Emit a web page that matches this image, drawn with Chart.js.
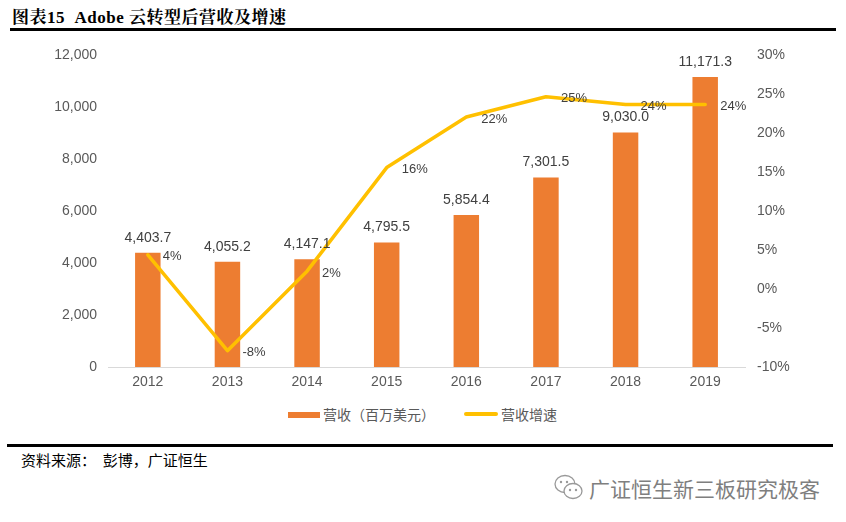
<!DOCTYPE html>
<html><head><meta charset="utf-8">
<script src="https://cdn.jsdelivr.net/npm/chart.js@4/dist/chart.umd.min.js"></script>
<style>
html,body{margin:0;padding:0;background:#fff;width:846px;height:522px;overflow:hidden;position:relative;font-family:"Liberation Sans","Noto Sans CJK SC",sans-serif;}
#title{position:absolute;left:12px;top:3px;font:bold 17px "Liberation Serif","Noto Serif CJK SC","Noto Sans CJK SC",serif;color:#000;white-space:nowrap;letter-spacing:0.5px;}
#rule1{position:absolute;left:10px;top:28px;width:826px;height:3px;background:#000;}
#chartbox{position:absolute;left:0;top:35px;width:846px;height:362px;}
.lg{position:absolute;}
.lgt{position:absolute;top:404px;font:14px "Noto Sans CJK SC",sans-serif;color:#595959;white-space:nowrap;line-height:20px;}
#rule2{position:absolute;left:7px;top:444px;width:826px;height:3px;background:#000;}
#source{position:absolute;left:21px;top:450px;font:15px "Noto Sans CJK SC",sans-serif;color:#000;white-space:nowrap;line-height:20px;}
#wm{position:absolute;left:589px;top:473px;font:21px "Noto Sans CJK SC",sans-serif;color:#7f7f7f;white-space:nowrap;}
#wmicon{position:absolute;left:553px;top:473px;}
</style></head>
<body>
<div id="title">图表15&nbsp; Adobe 云转型后营收及增速</div>
<div id="rule1"></div>
<div id="chartbox"><canvas id="c"></canvas></div>
<div class="lg" style="left:288px;top:412px;width:32px;height:6px;background:#ED7D31;"></div>
<div class="lgt" style="left:323px;">营收（百万美元）</div>
<div class="lg" style="left:464px;top:412px;width:34px;height:4px;background:#FFC000;border-radius:2px;"></div>
<div class="lgt" style="left:501px;">营收增速</div>
<div id="rule2"></div>
<div id="source">资料来源：&nbsp;&nbsp;彭博，广证恒生</div>
<svg id="wmicon" width="32" height="30" viewBox="0 0 32 30"><ellipse cx="12" cy="11" rx="10" ry="8.5" fill="none" stroke="#999" stroke-width="1.3"/><ellipse cx="20" cy="18" rx="9" ry="7.5" fill="#fff" stroke="#999" stroke-width="1.3"/><circle cx="17" cy="17" r="1.2" fill="#999"/><circle cx="23" cy="17" r="1.2" fill="#999"/><circle cx="8" cy="9" r="1.2" fill="#999"/><circle cx="14" cy="9" r="1.2" fill="#999"/></svg>
<div id="wm">广证恒生新三板研究极客</div>
<script>
const categories = ['2012','2013','2014','2015','2016','2017','2018','2019'];
const revenue = [4403.7, 4055.2, 4147.1, 4795.5, 5854.4, 7301.5, 9030.0, 11171.3];
const growth = [4.4, -7.9, 2.3, 15.6, 22.1, 24.7, 23.7, 23.7];
const revenueLabels = ['4,403.7','4,055.2','4,147.1','4,795.5','5,854.4','7,301.5','9,030.0','11,171.3'];
const growthLabels = ['4%','-8%','2%','16%','22%','25%','24%','24%'];
const leftTicks = [0,2000,4000,6000,8000,10000,12000];
const rightTicks = [-10,-5,0,5,10,15,20,25,30];

const labelPlugin = {
  id:'labels',
  afterDatasetsDraw(chart){
    const ctx = chart.ctx;
    ctx.save();
    ctx.font = '14px "Liberation Sans", sans-serif';
    ctx.fillStyle = '#404040';
    const bars = chart.getDatasetMeta(0).data;
    ctx.textAlign = 'center'; ctx.textBaseline = 'bottom';
    bars.forEach((b,i)=>{ ctx.fillText(revenueLabels[i], b.x, b.y - 8); });
    const pts = chart.getDatasetMeta(1).data;
    ctx.textAlign = 'left'; ctx.textBaseline = 'middle';
    ctx.font = '13px "Liberation Sans Narrow","Liberation Sans", sans-serif';
    pts.forEach((p,i)=>{ ctx.fillText(growthLabels[i], p.x + 15, p.y + 2); });
    ctx.restore();
  }
};

new Chart(document.getElementById('c'), {
  data:{
    labels: categories,
    datasets:[
      {type:'bar', label:'营收（百万美元）', data: revenue, backgroundColor:'#ED7D31', yAxisID:'y', barPercentage:0.32, categoryPercentage:1.0, order:2},
      {type:'line', label:'营收增速', data: growth, borderColor:'#FFC000', borderWidth:3.5, pointRadius:0, tension:0, yAxisID:'y1', borderCapStyle:'round', borderJoinStyle:'round', order:1}
    ]
  },
  options:{
    responsive:true, maintainAspectRatio:false, animation:false,
    layout:{padding:{top:19,left:0,right:0,bottom:0}},
    plugins:{legend:{display:false}, tooltip:{enabled:false}},
    scales:{
      x:{
        grid:{display:false, drawTicks:false},
        border:{display:true, color:'#D9D9D9', width:1},
        ticks:{color:'#595959', font:{family:'"Liberation Sans", sans-serif', size:14}, padding:7},
        afterFit(s){ s.height = 30; }
      },
      y:{
        position:'left', min:0, max:12000,
        afterBuildTicks(s){ s.ticks = leftTicks.map(v=>({value:v})); },
        grid:{display:false, drawTicks:false},
        border:{display:false},
        ticks:{color:'#595959', font:{family:'"Liberation Sans", sans-serif', size:14}, padding:11,
          callback:v=>v.toLocaleString('en-US')},
        afterFit(s){ s.width = 108; }
      },
      y1:{
        position:'right', min:-10, max:30,
        afterBuildTicks(s){ s.ticks = rightTicks.map(v=>({value:v})); },
        grid:{display:false, drawTicks:false},
        border:{display:false},
        ticks:{color:'#595959', font:{family:'"Liberation Sans Narrow","Liberation Sans", sans-serif', size:14}, padding:12,
          callback:v=>v+'%'},
        afterFit(s){ s.width = 101; }
      }
    }
  },
  plugins:[labelPlugin]
});
</script>
</body></html>
